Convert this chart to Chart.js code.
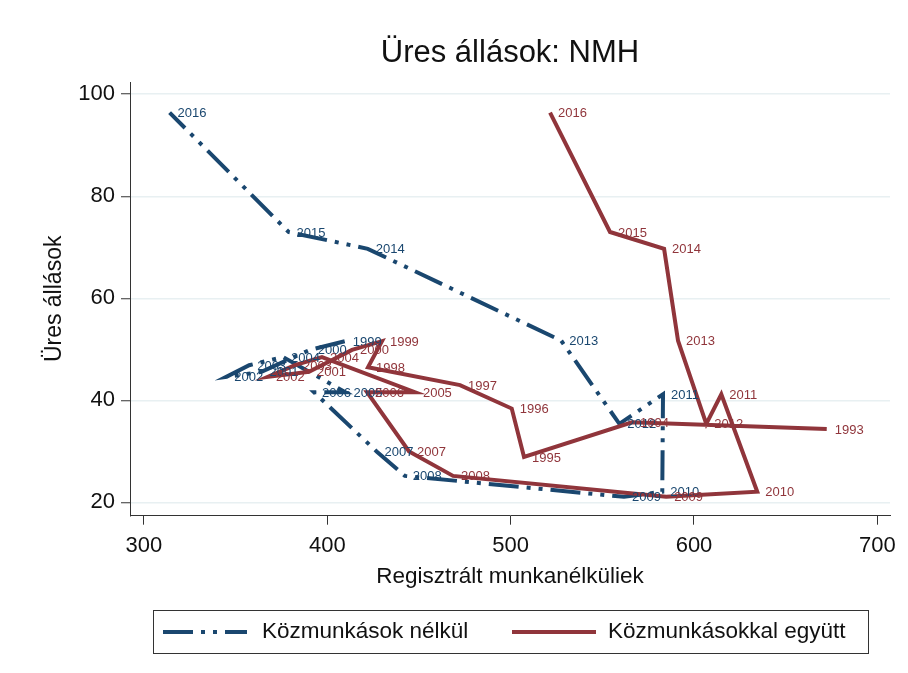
<!DOCTYPE html>
<html>
<head>
<meta charset="utf-8">
<script src="https://cdn.jsdelivr.net/npm/chart.js@4.4.1/dist/chart.umd.min.js"></script>
<style>
  body { margin: 0; background: #fff; }
  canvas { display: block; }
</style>
</head>
<body>
<canvas id="chart" width="908" height="673"></canvas>
<script>
// years with public workers included (red) start in 1993, the blue series in 1999
const redYears = [1993, 1994, 1995, 1996, 1997, 1998, 1999, 2000, 2001, 2002, 2003, 2004,
                  2005, 2006, 2007, 2008, 2009, 2010, 2011, 2012, 2013, 2014, 2015, 2016];
const redUnemployed = [672.4, 566.2, 507.3, 500.6, 472.4, 422.2, 429.8, 413.5, 390.0, 367.6, 382.4, 397.1,
                       447.8, 421.7, 444.6, 468.6, 584.8, 634.5, 614.9, 606.7, 591.3, 583.7, 554.2, 521.5];
const vacancies = [34.4, 35.7, 28.9, 38.4, 43.0, 46.5, 51.6, 49.9, 45.6, 44.6, 46.9, 48.5,
                   41.6, 41.6, 30.0, 25.2, 21.1, 22.1, 41.2, 35.4, 51.7, 69.7, 73.0, 96.4];

const blueYears = [1999, 2000, 2001, 2002, 2003, 2004, 2005, 2006, 2007, 2008,
                   2009, 2010, 2011, 2012, 2013, 2014, 2015, 2016];
const blueUnemployed = [409.5, 390.5, 364.1, 344.9, 357.4, 375.9, 409.9, 392.8, 426.9, 442.3,
                        561.8, 582.7, 583.1, 559.3, 527.6, 422.1, 378.9, 314.0];
const blueVacancies = vacancies.slice(redYears.indexOf(1999));

const xTicks = [300, 400, 500, 600, 700];
const yTicks = [20, 40, 60, 80, 100];

const NAVY = '#1a476f';
const MAROON = '#90353b';
const blueDash = [30, 8, 4, 8, 4, 8];
const FONT = "'Liberation Sans', Arial, sans-serif";

function points(xs, ys) {
  return xs.map((x, i) => ({ x: x, y: ys[i] }));
}

// white page, title, year labels and the framed legend
const decorations = {
  id: 'decorations',
  beforeDraw(chart) {
    const c = chart.ctx;
    c.save();
    c.fillStyle = '#fff';
    c.fillRect(0, 0, chart.width, chart.height);
    c.restore();
  },
  afterDatasetsDraw(chart) {
    const c = chart.ctx;
    c.save();
    c.font = '13px ' + FONT;
    c.textBaseline = 'middle';
    c.textAlign = 'left';
    [1, 0].forEach(function (di) {
      const ds = chart.data.datasets[di];
      const meta = chart.getDatasetMeta(di);
      c.fillStyle = ds.borderColor;
      meta.data.forEach(function (pt, j) {
        c.fillText(String(ds.years[j]), pt.x + 8, pt.y + 1);
      });
    });
    c.restore();
  },
  afterDraw(chart) {
    const c = chart.ctx;
    c.save();
    c.fillStyle = '#111';
    c.font = '31px ' + FONT;
    c.textAlign = 'center';
    c.textBaseline = 'middle';
    c.fillText('Üres állások: NMH', 510, 53);

    // legend frame
    c.strokeStyle = '#333';
    c.lineWidth = 1;
    c.strokeRect(153.5, 610.5, 715, 43);
    const entries = [
      { ds: chart.data.datasets[1], x0: 163, tx: 262 },
      { ds: chart.data.datasets[0], x0: 512, tx: 608 }
    ];
    c.font = '22.5px ' + FONT;
    c.textAlign = 'left';
    entries.forEach(function (e) {
      c.strokeStyle = e.ds.borderColor;
      c.lineWidth = 4;
      c.lineCap = 'butt';
      c.setLineDash(e.ds.borderDash || []);
      c.beginPath();
      c.moveTo(e.x0, 632);
      c.lineTo(e.x0 + 84, 632);
      c.stroke();
      c.setLineDash([]);
      c.fillStyle = '#111';
      c.fillText(e.ds.label, e.tx, 632);
    });
    c.restore();
  }
};

new Chart(document.getElementById('chart'), {
  type: 'scatter',
  data: {
    datasets: [
      {
        label: 'Közmunkásokkal együtt',
        years: redYears,
        data: points(redUnemployed, vacancies),
        showLine: true,
        borderColor: MAROON,
        backgroundColor: MAROON,
        borderWidth: 4,
        pointRadius: 0,
        tension: 0,
        order: 1
      },
      {
        label: 'Közmunkások nélkül',
        years: blueYears,
        data: points(blueUnemployed, blueVacancies),
        showLine: true,
        borderColor: NAVY,
        backgroundColor: NAVY,
        borderWidth: 4,
        borderDash: blueDash,
        borderCapStyle: 'butt',
        pointRadius: 0,
        tension: 0,
        order: 2
      }
    ]
  },
  options: {
    responsive: false,
    animation: false,
    devicePixelRatio: 1,
    layout: { padding: { top: 82, right: 18, bottom: 77.3, left: 0 } },
    plugins: {
      legend: { display: false },
      title: { display: false },
      tooltip: { enabled: false }
    },
    scales: {
      x: {
        type: 'linear',
        min: 292.4,
        max: 706.9,
        afterBuildTicks: function (axis) { axis.ticks = xTicks.map(v => ({ value: v })); },
        afterFit: function (axis) { axis.height = 80; },
        ticks: { color: '#111', padding: 8, font: { family: FONT, size: 22 } },
        grid: { drawOnChartArea: false, drawTicks: true, tickLength: 9, tickColor: '#333', tickWidth: 1 },
        border: { display: true, color: '#333', width: 1 },
        title: {
          display: true,
          text: 'Regisztrált munkanélküliek',
          color: '#111',
          font: { family: FONT, size: 22.5 },
          padding: { top: 0, bottom: 5 }
        }
      },
      y: {
        type: 'linear',
        min: 17.4,
        max: 102.4,
        afterBuildTicks: function (axis) { axis.ticks = yTicks.map(v => ({ value: v })); },
        afterFit: function (axis) { axis.width = 130; },
        ticks: { color: '#111', padding: 6, font: { family: FONT, size: 22 } },
        grid: { color: '#e8f0f2', lineWidth: 1.5, drawTicks: true, tickLength: 9, tickColor: '#333', tickWidth: 1 },
        border: { display: true, color: '#333', width: 1 },
        title: {
          display: true,
          text: 'Üres állások',
          color: '#111',
          font: { family: FONT, size: 23 },
          padding: { top: 41, bottom: 0 }
        }
      }
    }
  },
  plugins: [decorations]
});
</script>
</body>
</html>
